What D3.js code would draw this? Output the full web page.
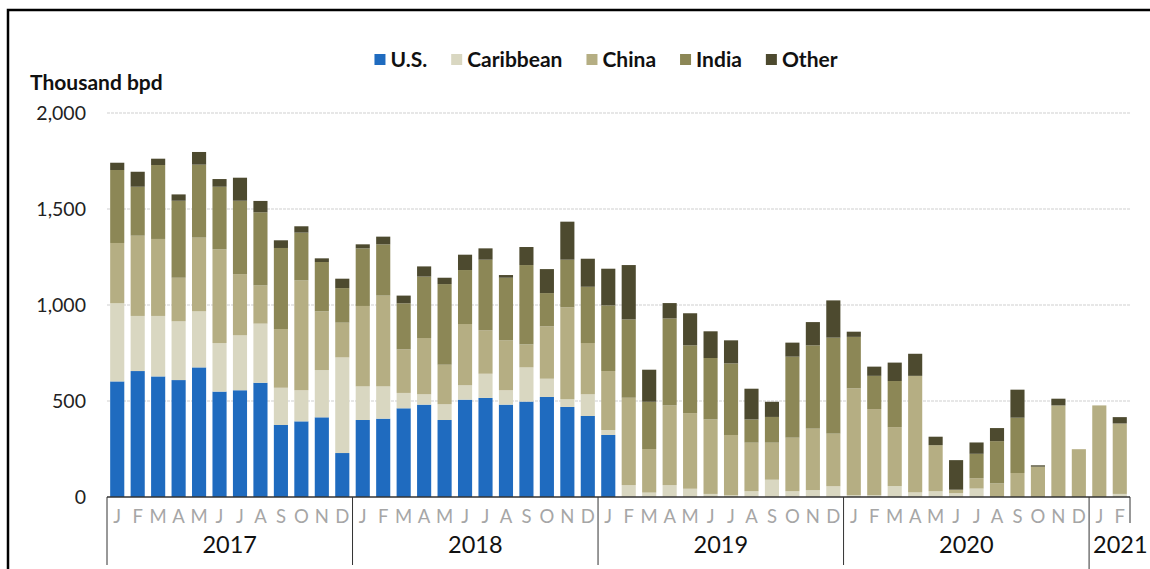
<!DOCTYPE html>
<html>
<head>
<meta charset="utf-8">
<script src="https://cdn.jsdelivr.net/npm/d3@7"></script>
<style>
  body { margin: 0; background: #fff; }
  text { font-family: Lato, "Open Sans", sans-serif; }
</style>
</head>
<body>
<div id="chart"></div>
<script>
const width = 1150;
const height = 569;

// months and years on the two-level x axis
const monthLabels = ["J", "F", "M", "A", "M", "J", "J", "A", "S", "O", "N", "D"];
const years = ["2017", "2018", "2019", "2020", "2021"];
const monthsInYear = [12, 12, 12, 12, 2];

const seriesNames = ["U.S.", "Caribbean", "China", "India", "Other"];
const seriesColors = ["#1f6bbf", "#d9d7c1", "#b5ae83", "#8c8756", "#4d4a2f"];

// thousand bpd, Jan 2017 .. Feb 2021
const us = [602, 656, 628, 609, 675, 549, 556, 595, 375, 394, 415, 229,
  401, 408, 462, 481, 401, 507, 516, 481, 497, 521, 469, 422,
  323, 0, 0, 0, 0, 0, 0, 0, 0, 0, 0, 0,
  0, 0, 0, 0, 0, 0, 0, 0, 0, 0, 0, 0,
  0, 0];
const caribbean = [407, 287, 315, 306, 292, 253, 286, 308, 194, 162, 246, 498,
  175, 168, 80, 54, 82, 75, 126, 75, 178, 95, 40, 113,
  26, 62, 23, 62, 43, 16, 9, 30, 90, 30, 36, 56,
  10, 10, 57, 24, 30, 20, 44, 0, 0, 0, 0, 0,
  0, 16];
const china = [314, 418, 401, 227, 384, 488, 319, 199, 306, 572, 306, 181,
  419, 473, 227, 293, 206, 319, 226, 260, 120, 273, 479, 267,
  307, 455, 227, 415, 394, 388, 314, 253, 193, 279, 320, 274,
  556, 448, 307, 607, 240, 18, 54, 71, 125, 158, 477, 249,
  477, 367];
const india = [380, 255, 385, 401, 380, 326, 382, 381, 422, 249, 257, 180,
  300, 267, 240, 320, 420, 281, 368, 326, 413, 173, 248, 293,
  342, 408, 246, 453, 353, 320, 373, 121, 134, 422, 434, 500,
  268, 173, 240, 0, 0, 0, 127, 220, 288, 0, 0, 0,
  0, 0];
const other = [38, 78, 33, 33, 66, 40, 120, 59, 40, 33, 19, 49,
  21, 40, 40, 53, 33, 80, 59, 14, 94, 125, 198, 146,
  191, 283, 167, 80, 167, 139, 120, 160, 79, 73, 121, 194,
  27, 48, 96, 115, 44, 154, 59, 68, 146, 7, 35, 0,
  0, 33];

const yTicks = [0, 500, 1000, 1500, 2000];

// build rows for the stack
const seriesValues = [us, caribbean, china, india, other];
const rows = [];
years.forEach((yr, yi) => {
  for (let m = 0; m < monthsInYear[yi]; m++) {
    const i = rows.length;
    const row = { key: yr + "-" + m, year: yr, month: monthLabels[m] };
    seriesNames.forEach((s, si) => { row[s] = seriesValues[si][i]; });
    rows.push(row);
  }
});

const svg = d3.select("#chart").append("svg")
  .attr("width", width)
  .attr("height", height);

const x = d3.scaleBand()
  .domain(rows.map(d => d.key))
  .range([107, 1130])
  .paddingInner(0.31)
  .paddingOuter(0.155);

const y = d3.scaleLinear()
  .domain([0, 2000])
  .range([497, 113]);

const color = d3.scaleOrdinal()
  .domain(seriesNames)
  .range(seriesColors);

// frame
svg.append("path")
  .attr("d", "M8,569 L8,10 L1150,10")
  .attr("fill", "none")
  .attr("stroke", "#000")
  .attr("stroke-width", 2.5);

// gridlines
svg.append("g")
  .selectAll("line")
  .data(yTicks.filter(t => t > 0))
  .join("line")
  .attr("x1", 107)
  .attr("x2", 1131)
  .attr("y1", d => y(d))
  .attr("y2", d => y(d))
  .attr("stroke", "#cfcfcf")
  .attr("stroke-width", 1)
  .attr("stroke-dasharray", "3,1");

// y axis labels
svg.append("g")
  .selectAll("text")
  .data(yTicks)
  .join("text")
  .attr("x", 86)
  .attr("y", d => y(d))
  .attr("dy", "0.35em")
  .attr("text-anchor", "end")
  .attr("font-size", 19.5)
  .attr("fill", "#222")
  .text(d => d3.format(",")(d));

svg.append("text")
  .attr("x", 30)
  .attr("y", 90)
  .attr("font-size", 21)
  .attr("font-weight", "bold")
  .attr("fill", "#111")
  .text("Thousand bpd");

// stacked bars
const stack = d3.stack().keys(seriesNames);
const layers = stack(rows);

svg.append("g")
  .selectAll("g")
  .data(layers)
  .join("g")
  .attr("fill", d => color(d.key))
  .selectAll("rect")
  .data(d => d)
  .join("rect")
  .attr("x", d => x(d.data.key))
  .attr("width", x.bandwidth())
  .attr("y", d => y(d[1]))
  .attr("height", d => y(d[0]) - y(d[1]));

// x axis baseline
svg.append("line")
  .attr("x1", 107)
  .attr("x2", 1130)
  .attr("y1", y(0))
  .attr("y2", y(0))
  .attr("stroke", "#333")
  .attr("stroke-width", 1.5);

// month labels
svg.append("g")
  .selectAll("text")
  .data(rows)
  .join("text")
  .attr("x", d => x(d.key) + x.bandwidth() / 2)
  .attr("y", 523)
  .attr("text-anchor", "middle")
  .attr("font-size", 18.5)
  .attr("fill", "#a6a6a6")
  .text(d => d.month);

// year groups
const step = x.step();
let start = 0;
const groups = years.map((yr, yi) => {
  const g = { year: yr, x0: 107 + start * step, x1: 107 + (start + monthsInYear[yi]) * step };
  start += monthsInYear[yi];
  return g;
});

svg.append("g")
  .selectAll("line")
  .data(groups)
  .join("line")
  .attr("x1", d => d.x0)
  .attr("x2", d => d.x0)
  .attr("y1", y(0))
  .attr("y2", (d, i) => i === groups.length - 1 ? 569 : 565)
  .attr("stroke", "#333")
  .attr("stroke-width", 1);

// short closing tick at the right end
const last = groups[groups.length - 1];
svg.append("line")
  .attr("x1", last.x1)
  .attr("x2", last.x1)
  .attr("y1", y(0))
  .attr("y2", 523)
  .attr("stroke", "#333")
  .attr("stroke-width", 1);

svg.append("g")
  .selectAll("text")
  .data(groups)
  .join("text")
  .attr("x", d => (d.x1 - d.x0) < 60 ? d.x0 + 4 : (d.x0 + d.x1) / 2)
  .attr("y", 553)
  .attr("text-anchor", d => (d.x1 - d.x0) < 60 ? "start" : "middle")
  .attr("font-size", 23.5)
  .attr("fill", "#111")
  .text(d => d.year);

// legend
const legend = svg.append("g");
const items = legend.selectAll("g")
  .data(seriesNames)
  .join("g");

items.append("rect")
  .attr("width", 11)
  .attr("height", 11)
  .attr("y", 54)
  .attr("fill", d => color(d));

items.append("text")
  .attr("x", 16)
  .attr("y", 67)
  .attr("font-size", 21)
  .attr("font-weight", "bold")
  .attr("fill", "#111")
  .text(d => d);

let lx = 0;
const offsets = [];
items.each(function () {
  offsets.push(lx);
  lx += 16 + this.querySelector("text").getComputedTextLength() + 24;
});
const legendWidth = lx - 24;
items.attr("transform", (d, i) => `translate(${606 - legendWidth / 2 + offsets[i]},0)`);
</script>
</body>
</html>
